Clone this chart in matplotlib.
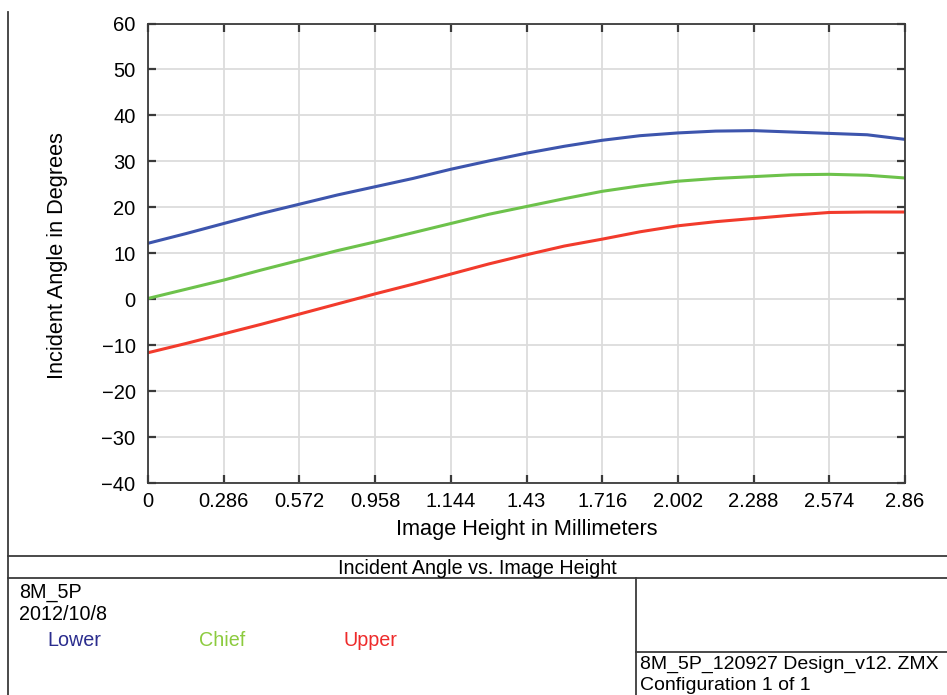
import matplotlib

matplotlib.use("Agg")
import matplotlib.pyplot as plt
from matplotlib.lines import Line2D

plt.rcParams["font.family"] = ["Liberation Sans", "DejaVu Sans"]

# image height (mm), sampled every 0.143 mm
HEIGHT = [0.0, 0.143, 0.286, 0.429, 0.572, 0.715, 0.858, 1.001, 1.144, 1.287, 1.43,
          1.573, 1.716, 1.859, 2.002, 2.145, 2.288, 2.431, 2.574, 2.717, 2.86]
LOWER = [12.2, 14.3, 16.5, 18.7, 20.7, 22.7, 24.5, 26.3, 28.3, 30.1, 31.8,
         33.3, 34.6, 35.6, 36.2, 36.6, 36.7, 36.4, 36.1, 35.8, 34.8]
CHIEF = [0.2, 2.2, 4.2, 6.4, 8.5, 10.6, 12.5, 14.5, 16.5, 18.5, 20.2,
         21.9, 23.5, 24.7, 25.7, 26.3, 26.7, 27.1, 27.2, 27.0, 26.4]
UPPER = [-11.6, -9.6, -7.5, -5.4, -3.2, -1.0, 1.2, 3.3, 5.5, 7.7, 9.7,
         11.6, 13.1, 14.7, 16.0, 16.9, 17.6, 18.3, 18.9, 19.0, 19.0]

X_TICKS = [0, 0.286, 0.572, 0.858, 1.144, 1.43, 1.716, 2.002, 2.288, 2.574, 2.86]
X_LABELS = ["0", "0.286", "0.572", "0.958", "1.144", "1.43", "1.716", "2.002",
            "2.288", "2.574", "2.86"]
Y_TICKS = [60, 50, 40, 30, 20, 10, 0, -10, -20, -30, -40]

W, H = 947, 695
EDGE = "#3a3a3a"

fig = plt.figure(figsize=(W / 100, H / 100), dpi=100)
ax = fig.add_axes([148 / W, 1 - 483.3 / H, (905 - 148) / W, (483.3 - 23.5) / H])

ax.plot(HEIGHT, LOWER, color="#3d55ad", lw=2.2)
ax.plot(HEIGHT, CHIEF, color="#6dc24b", lw=2.2)
ax.plot(HEIGHT, UPPER, color="#f23b2c", lw=2.2)

ax.set_xlim(0, 2.86)
ax.set_ylim(-40, 60)
ax.set_xticks(X_TICKS, X_LABELS)
ax.set_yticks(Y_TICKS, [str(v).replace("-", "\u2212") for v in Y_TICKS])
ax.grid(True, color="#dcdcdc", lw=1.3)
ax.set_axisbelow(True)
ax.tick_params(direction="in", length=6, width=1.6, color=EDGE, labelsize=14.5,
               top=True, right=True, pad=9)
ax.tick_params(axis="x", pad=6)
for s in ax.spines.values():
    s.set_color(EDGE)
    s.set_linewidth(1.3)

fig.text(527 / W, 1 - 530 / H, "Image Height in Millimeters", ha="center", va="center", fontsize=15.7)
fig.text(57 / W, 1 - 256 / H, "Incident Angle in Degrees", ha="center", va="center",
         rotation=90, fontsize=15.7)


# frame lines of the report block, in pixel coords
def hline(y, x0, x1):
    fig.add_artist(Line2D([x0 / W, x1 / W], [1 - y / H, 1 - y / H], color=EDGE, lw=1.3))


def vline(x, y0, y1):
    fig.add_artist(Line2D([x / W, x / W], [1 - y0 / H, 1 - y1 / H], color=EDGE, lw=1.3))


vline(7.5, 12, 695)
hline(556, 7.5, 947)
hline(578, 7.5, 947)
vline(636, 578, 695)
hline(652, 636, 947)

fig.text(477 / W, 1 - 568 / H, "Incident Angle vs. Image Height", ha="center", va="center", fontsize=14.2)
fig.text(19 / W, 1 - 593 / H, "8M_5P", ha="left", va="center", fontsize=14.2)
fig.text(19 / W, 1 - 615 / H, "2012/10/8", ha="left", va="center", fontsize=14.2)
fig.text(47 / W, 1 - 641 / H, "Lower", ha="left", va="center", fontsize=14.2, color="#2b2d8e")
fig.text(199 / W, 1 - 641 / H, "Chief", ha="left", va="center", fontsize=14.2, color="#8ccb3e")
fig.text(343 / W, 1 - 641 / H, "Upper", ha="left", va="center", fontsize=14.2, color="#ee2b2b")
fig.text(640 / W, 1 - 664 / H, "8M_5P_120927 Design_v12. ZMX", ha="left", va="center", fontsize=14)
fig.text(640 / W, 1 - 686 / H, "Configuration 1 of 1", ha="left", va="center", fontsize=14)

fig.savefig("out.png", dpi=100)
